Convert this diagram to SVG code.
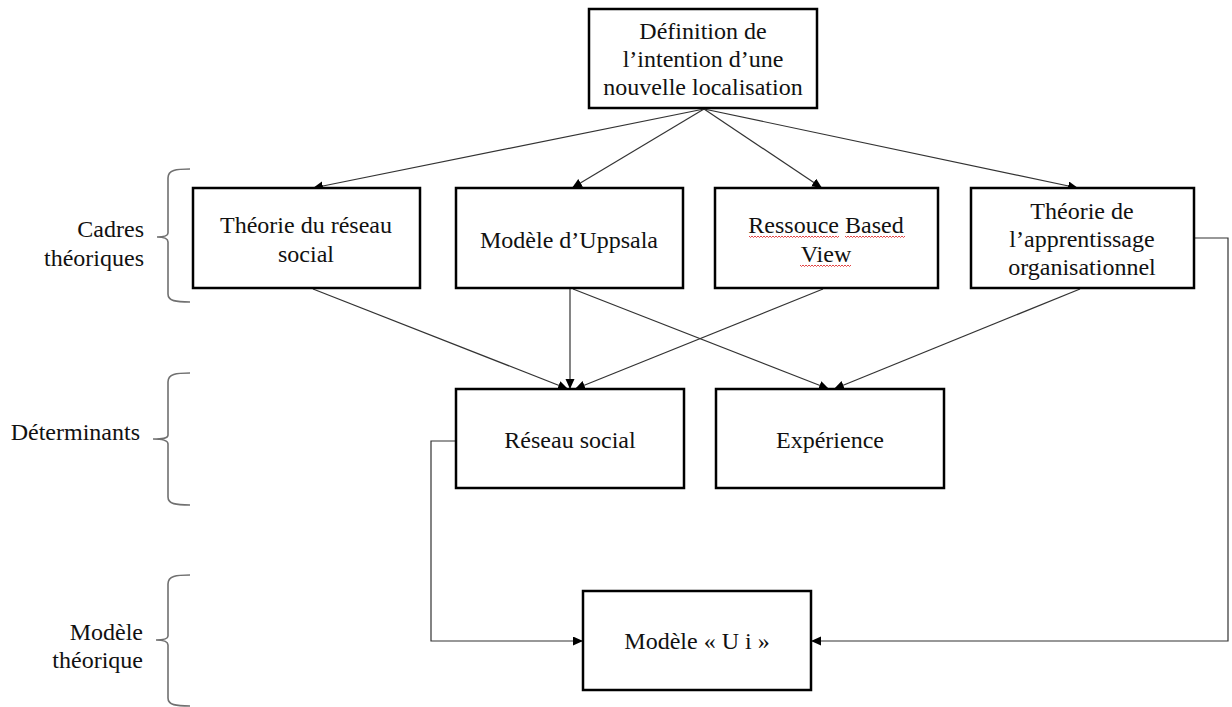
<svg xmlns="http://www.w3.org/2000/svg" width="1232" height="707" viewBox="0 0 1232 707">
<defs>
<marker id="arr" markerUnits="userSpaceOnUse" markerWidth="11" markerHeight="10" refX="10" refY="4.5" orient="auto">
<path d="M0,0 L10,4.5 L0,9 z" fill="#000"/>
</marker>
<style>
.box{fill:#fff;stroke:#000;stroke-width:2.5}
.t{font-family:"Liberation Serif","Times New Roman",serif;font-size:24px;fill:#111;text-anchor:middle}
.lbl{font-family:"Liberation Serif","Times New Roman",serif;font-size:24px;fill:#111;text-anchor:end}
.ca{fill:none;stroke:#333;stroke-width:1.2;marker-end:url(#arr)}
.brace{fill:none;stroke:#707070;stroke-width:1.6}
.sq{fill:none;stroke:#e03030;stroke-width:0.9}
</style>
</defs>
<rect width="1232" height="707" fill="#fff"/>

<g id="connectors">
<line class="ca" x1="704" y1="109" x2="313" y2="188"/>
<line class="ca" x1="704" y1="109" x2="572" y2="188"/>
<line class="ca" x1="704" y1="109" x2="822" y2="188"/>
<line class="ca" x1="704" y1="109" x2="1078" y2="188"/>
<line class="ca" x1="313" y1="289" x2="568" y2="389"/>
<line class="ca" x1="570" y1="289" x2="570" y2="389"/>
<line class="ca" x1="573" y1="289" x2="829" y2="389"/>
<line class="ca" x1="823" y1="289" x2="575" y2="389"/>
<line class="ca" x1="1080" y1="289" x2="834" y2="389"/>
<polyline class="ca" points="1195,238 1228,238 1228,641 811,641"/>
<polyline class="ca" points="456,441 431,441 431,641 583,641"/>
</g>

<g id="n-definition">
<rect class="box" x="589" y="9" width="228" height="99"/>
<text class="t" x="703" y="39">Définition de</text>
<text class="t" x="703" y="67">l’intention d’une</text>
<text class="t" x="703" y="95">nouvelle localisation</text>
</g>

<g id="n-reseau-theorie">
<rect class="box" x="193" y="188" width="227" height="100"/>
<text class="t" x="306" y="233">Théorie du réseau</text>
<text class="t" x="306" y="262">social</text>
</g>

<g id="n-uppsala">
<rect class="box" x="456" y="188" width="227" height="100"/>
<text class="t" x="569" y="248">Modèle d’Uppsala</text>
</g>

<g id="n-rbv">
<rect class="box" x="715" y="188" width="223" height="100"/>
<text class="t" x="826" y="233">Ressouce Based</text>
<text class="t" x="826" y="262">View</text>
<path class="sq" d="M749,236 l1.5,1.5 l1.5,-1.5 l1.5,1.5 l1.5,-1.5 l1.5,1.5 l1.5,-1.5 l1.5,1.5 l1.5,-1.5 l1.5,1.5 l1.5,-1.5 l1.5,1.5 l1.5,-1.5 l1.5,1.5 l1.5,-1.5 l1.5,1.5 l1.5,-1.5 l1.5,1.5 l1.5,-1.5 l1.5,1.5 l1.5,-1.5 l1.5,1.5 l1.5,-1.5 l1.5,1.5 l1.5,-1.5 l1.5,1.5 l1.5,-1.5 l1.5,1.5 l1.5,-1.5 l1.5,1.5 l1.5,-1.5 l1.5,1.5 l1.5,-1.5 l1.5,1.5 l1.5,-1.5 l1.5,1.5 l1.5,-1.5 l1.5,1.5 l1.5,-1.5 l1.5,1.5 l1.5,-1.5 l1.5,1.5 l1.5,-1.5 l1.5,1.5 l1.5,-1.5 l1.5,1.5 l1.5,-1.5 l1.5,1.5 l1.5,-1.5 l1.5,1.5 l1.5,-1.5 l1.5,1.5 l1.5,-1.5 l1.5,1.5 l1.5,-1.5 l1.5,1.5 l1.5,-1.5 l1.5,1.5 l1.5,-1.5 l1.5,1.5 l1.5,-1.5"/>
<path class="sq" d="M845,236 l1.5,1.5 l1.5,-1.5 l1.5,1.5 l1.5,-1.5 l1.5,1.5 l1.5,-1.5 l1.5,1.5 l1.5,-1.5 l1.5,1.5 l1.5,-1.5 l1.5,1.5 l1.5,-1.5 l1.5,1.5 l1.5,-1.5 l1.5,1.5 l1.5,-1.5 l1.5,1.5 l1.5,-1.5 l1.5,1.5 l1.5,-1.5 l1.5,1.5 l1.5,-1.5 l1.5,1.5 l1.5,-1.5 l1.5,1.5 l1.5,-1.5 l1.5,1.5 l1.5,-1.5 l1.5,1.5 l1.5,-1.5 l1.5,1.5 l1.5,-1.5 l1.5,1.5 l1.5,-1.5 l1.5,1.5 l1.5,-1.5 l1.5,1.5 l1.5,-1.5 l1.5,1.5 l1.5,-1.5"/>
<path class="sq" d="M800,265 l1.5,1.5 l1.5,-1.5 l1.5,1.5 l1.5,-1.5 l1.5,1.5 l1.5,-1.5 l1.5,1.5 l1.5,-1.5 l1.5,1.5 l1.5,-1.5 l1.5,1.5 l1.5,-1.5 l1.5,1.5 l1.5,-1.5 l1.5,1.5 l1.5,-1.5 l1.5,1.5 l1.5,-1.5 l1.5,1.5 l1.5,-1.5 l1.5,1.5 l1.5,-1.5 l1.5,1.5 l1.5,-1.5 l1.5,1.5 l1.5,-1.5 l1.5,1.5 l1.5,-1.5 l1.5,1.5 l1.5,-1.5 l1.5,1.5 l1.5,-1.5 l1.5,1.5 l1.5,-1.5"/>
</g>

<g id="n-apprentissage">
<rect class="box" x="971" y="188" width="223" height="100"/>
<text class="t" x="1082" y="219">Théorie de</text>
<text class="t" x="1082" y="247">l’apprentissage</text>
<text class="t" x="1082" y="275">organisationnel</text>
</g>

<g id="n-reseau-social">
<rect class="box" x="456" y="389" width="228" height="99"/>
<text class="t" x="570" y="448">Réseau social</text>
</g>

<g id="n-experience">
<rect class="box" x="716" y="389" width="228" height="99"/>
<text class="t" x="830" y="448">Expérience</text>
</g>

<g id="n-modele-ui">
<rect class="box" x="583" y="591" width="228" height="99"/>
<text class="t" x="697" y="649">Modèle « U i »</text>
</g>

<g id="labels">
<path class="brace" d="M190,169 C176,169 168,170 168,178 L168,233 C168,236 164,237 157,237 C164,237 168,239 168,242 L168,294 C168,301 176,302 190,302"/>
<text class="lbl" x="144" y="237">Cadres</text>
<text class="lbl" x="144" y="266">théoriques</text>
<path class="brace" d="M190,373 C176,373 168,374 168,382 L168,435 C168,438 164,439 153,439 C164,439 168,441 168,444 L168,497 C168,504 176,505 190,505"/>
<text class="lbl" x="140" y="440">Déterminants</text>
<path class="brace" d="M190,575 C176,575 168,576 168,584 L168,636 C168,639 164,640 156,640 C164,640 168,642 168,645 L168,698 C168,705 176,706 190,706"/>
<text class="lbl" x="143" y="640">Modèle</text>
<text class="lbl" x="143" y="668">théorique</text>
</g>
</svg>
